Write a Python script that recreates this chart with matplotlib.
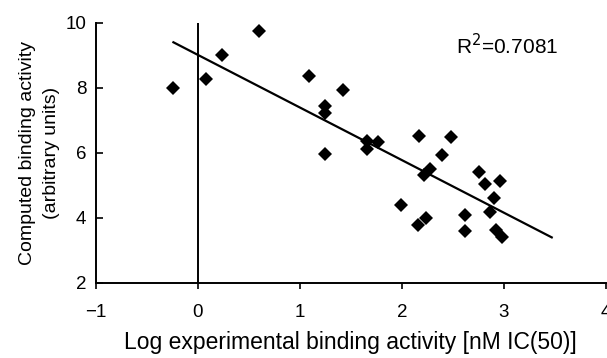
import numpy as np
import matplotlib
matplotlib.use("Agg")
from matplotlib import pyplot as plt

plt.rcParams['font.family'] = ['Liberation Sans', 'DejaVu Sans']

# Data
log_exp = [-0.24, 0.08, 0.24, 0.60, 1.09, 1.42, 1.25, 1.25, 1.25,
           1.66, 1.66, 1.77, 2.17, 2.48, 2.39, 2.28, 2.22, 1.99,
           2.24, 2.16, 2.76, 2.82, 2.96, 2.90, 2.86, 2.62, 2.62,
           2.92, 2.98]
computed = [8.00, 8.27, 9.01, 9.74, 8.38, 7.93, 7.44, 7.24, 5.95,
            6.37, 6.12, 6.33, 6.51, 6.48, 5.92, 5.49, 5.31, 4.38,
            4.01, 3.79, 5.41, 5.03, 5.14, 4.62, 4.19, 4.09, 3.60,
            3.62, 3.40]
r2_text = "R$^2$=0.7081"

# trend line (least squares), drawn forward to 3.5 like Excel
slope, icept = np.polyfit(log_exp, computed, 1)
line_x = np.array([min(log_exp), 3.47])
line_y = icept + slope * line_x

fig = plt.figure(figsize=(6.07, 3.58), dpi=100)
ax = fig.add_axes([0.158, 0.21, 0.84, 0.726])

ax.plot(log_exp, computed, 'kD', markersize=7.5, markeredgewidth=0)
ax.plot(line_x, line_y, 'k-', lw=1.6)
ax.axvline(0, color='k', lw=1.4)

ax.set_xlim(-1, 4)
ax.set_ylim(2, 10)
ax.set_xticks([-1, 0, 1, 2, 3, 4])
ax.set_xticklabels(['\u22121', '0', '1', '2', '3', '4'])
ax.set_yticks([2, 4, 6, 8, 10])

for s in ['top', 'right']:
    ax.spines[s].set_visible(False)
for s in ['left', 'bottom']:
    ax.spines[s].set_linewidth(1.4)
ax.tick_params(axis='x', direction='out', length=4.5, width=1.2, labelsize=13.5, pad=11)
ax.tick_params(axis='y', direction='in', length=5, width=1.2, labelsize=13.5, pad=7)

ax.text(2.53, 9.29, r2_text, fontsize=15, va='center', ha='left')

ax.set_xlabel('Log experimental binding activity [nM IC(50)]', fontsize=16.5, labelpad=7)
ax.set_ylabel('Computed binding activity\n(arbitrary units)', fontsize=14, labelpad=4,
              linespacing=1.5)

plt.savefig('out.png', dpi=100)
